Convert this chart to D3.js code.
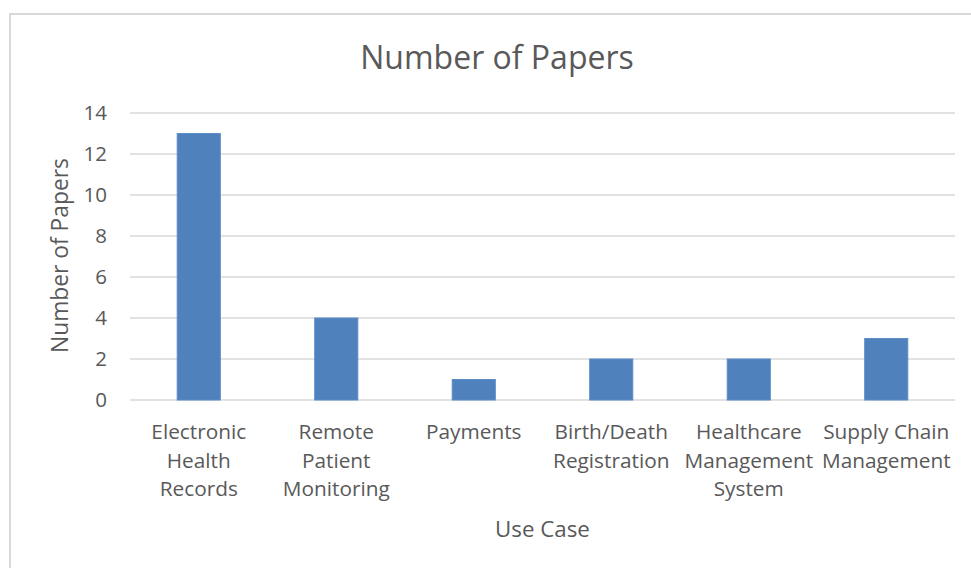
<!DOCTYPE html>
<html>
<head>
<meta charset="utf-8">
<script src="https://cdn.jsdelivr.net/npm/d3@7"></script>
<style>
  html, body { margin: 0; padding: 0; background: #fff; }
  svg { display: block; }
  text { font-family: "Open Sans", Lato, sans-serif; fill: #595959; }
</style>
</head>
<body>
<script>
// Use cases and the number of papers for each
const categories = [
  ["Electronic", "Health", "Records"],
  ["Remote", "Patient", "Monitoring"],
  ["Payments"],
  ["Birth/Death", "Registration"],
  ["Healthcare", "Management", "System"],
  ["Supply Chain", "Management"]
];
const paperCounts = [13, 4, 1, 2, 2, 3];
const yTicks = [0, 2, 4, 6, 8, 10, 12, 14];

const W = 971, H = 568;
const plot = { left: 130, right: 955, top: 113, bottom: 400 };

const svg = d3.select("body").append("svg").attr("width", W).attr("height", H);

// chart frame
svg.append("rect")
  .attr("x", 10).attr("y", 14).attr("width", W + 10).attr("height", H + 10)
  .attr("fill", "#fff").attr("stroke", "#d9d9d9").attr("stroke-width", 2);

const keys = categories.map((c, i) => i);
const x = d3.scaleBand().domain(keys).range([plot.left, plot.right]).padding(0);
const y = d3.scaleLinear().domain([0, 14]).range([plot.bottom, plot.top]);
const barW = x.bandwidth() / 3.19;

// gridlines
svg.append("g").selectAll("line").data(yTicks).join("line")
  .attr("x1", plot.left).attr("x2", plot.right)
  .attr("y1", d => y(d)).attr("y2", d => y(d))
  .attr("stroke", "#d9d9d9").attr("stroke-width", 1.5);

// y tick labels
const yAxis = d3.axisLeft(y).tickValues(yTicks).tickSize(0).tickPadding(0);
const gy = svg.append("g").attr("transform", `translate(${plot.left - 23},0)`).call(yAxis);
gy.select(".domain").remove();
gy.selectAll("text").attr("font-size", 20.5).attr("fill", "#595959")
  .style("font-family", "'Open Sans', Lato, sans-serif");

// bars
svg.append("g").selectAll("rect").data(paperCounts).join("rect")
  .attr("x", (d, i) => x(i) + x.bandwidth() / 2 - barW / 2)
  .attr("width", barW)
  .attr("y", d => y(d))
  .attr("height", d => y(0) - y(d))
  .attr("fill", "#4f81bd")
  .attr("stroke", "#5b8cc7").attr("stroke-width", 1);

// category labels
const cat = svg.append("g").selectAll("text").data(categories).join("text")
  .attr("text-anchor", "middle")
  .attr("font-size", 20.8)
  .attr("x", (d, i) => x(i) + x.bandwidth() / 2)
  .attr("y", 439);
cat.selectAll("tspan").data(d => d).join("tspan")
  .attr("x", function () { return d3.select(this.parentNode).attr("x"); })
  .attr("dy", (d, i) => i === 0 ? 0 : 28.6)
  .text(d => d);

// titles
svg.append("text").attr("x", 497).attr("y", 69).attr("text-anchor", "middle")
  .attr("font-size", 32).text("Number of Papers");

svg.append("text").attr("x", (plot.left + plot.right) / 2).attr("y", 537)
  .attr("text-anchor", "middle").attr("font-size", 22.3).text("Use Case");

svg.append("text")
  .attr("transform", `translate(68,${(plot.top + plot.bottom) / 2 - 1}) rotate(-90)`)
  .attr("text-anchor", "middle").attr("font-size", 22.8).text("Number of Papers");
</script>
</body>
</html>
